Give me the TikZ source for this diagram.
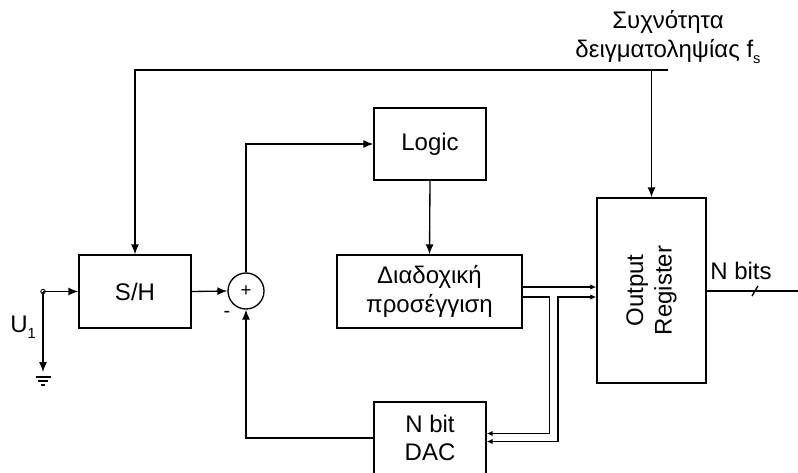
\documentclass[tikz,border=0pt]{standalone}
\usepackage{fontspec}
\setmainfont{Liberation Sans}
\usetikzlibrary{arrows.meta,calc}
\begin{document}
\begin{tikzpicture}[x=0.75pt,y=-0.75pt,
  line width=1pt,
  every node/.style={font=\fontsize{18}{21.5}\selectfont},
  blk/.style={draw,rectangle,align=center,inner sep=0pt},
  arr/.style={-{Latex[length=7.5pt,width=6pt]}},
  busarr/.style={-{Latex[length=4.5pt,width=4pt]}},
  busarr2/.style={{Latex[length=4.5pt,width=4pt]}-{Latex[length=4.5pt,width=4pt]}},
  lbl/.style={inner sep=0pt,align=center}]
\clip (0,0) rectangle (798,472);
\fill[white] (0,0) rectangle (798,472);
% blocks
\node[blk,minimum width=112*0.75pt,minimum height=73*0.75pt] (SH) at (135,291.5) {S/H};
\node[blk,minimum width=112*0.75pt,minimum height=72*0.75pt] (Logic) at (430,144) {Logic};
\node[blk,minimum width=185*0.75pt,minimum height=73*0.75pt] (SA) at (429.5,291.5) {Διαδοχική\\προσέγγιση};
\node[blk,minimum width=112*0.75pt,minimum height=72*0.75pt] (DAC) at (430,438) {N bit\\DAC};
\node[blk,minimum width=109*0.75pt,minimum height=185*0.75pt] (Reg) at (651.5,290.5) {};
\node[lbl,rotate=90] (RegTxt) at (Reg.center) {Output\\Register};
\node[draw,circle,minimum size=36*0.75pt,inner sep=0pt,font=\fontsize{14}{16}\selectfont] (Sum) at (246,291) {+};
\node[lbl,font=\fontsize{15}{16}\selectfont] (minus) at (227,314) {-};
% input
\coordinate (in) at (43,291.5);
\coordinate (gnd) at (43,372);
\draw[line width=0.7pt] (in) circle (2.2);
\draw[arr] (in) -- (SH.west);
\draw[arr] (in) -- (gnd);
\draw (35.5,377) -- (50.5,377);
\draw (38,381) -- (48,381);
\draw (41,385) -- (45,385);
\node[lbl] (U1) at (23,327) {U\raisebox{-0.5ex}{\fontsize{11}{13}\selectfont 1}};
% main path
\draw[arr] (SH.east) -- (Sum.west);
\draw[arr] (Sum.north) |- (Logic.west);
\draw[arr] (Logic.south) -- (SA.north);
\draw[arr] (DAC.west) -| (Sum.south);
% clock
\coordinate (clkL) at (135,70);
\coordinate (clkR) at (668,70);
\draw[arr] (clkR) -- (clkL) -- (SH.north);
\draw[arr] (Reg.north |- clkL) -- (Reg.north);
\node[lbl] (fs) at (668,37) {Συχνότητα\\δειγματοληψίας f\raisebox{-0.5ex}{\fontsize{11}{13}\selectfont s}};
% bus
\draw[busarr] ($(SA.east)+(0,-4.5)$) -- ($(Reg.west |- SA.east)+(0,-4.5)$);
\draw[busarr] ($(SA.east)+(0,5.5)$) -- ++(27,0) |- ($(DAC.east)+(0,-4.5)$);
\draw[busarr2] ($(DAC.east)+(0,3.5)$) -| (558,297) -- ($(Reg.west |- SA.east)+(0,5.5)$);
% output
\coordinate (outEnd) at (798,291);
\draw (Reg.east |- outEnd) -- (outEnd);
\draw (752,296) -- (758,286);
\node[lbl] (nbits) at (741,271) {N bits};
\end{tikzpicture}
\end{document}
